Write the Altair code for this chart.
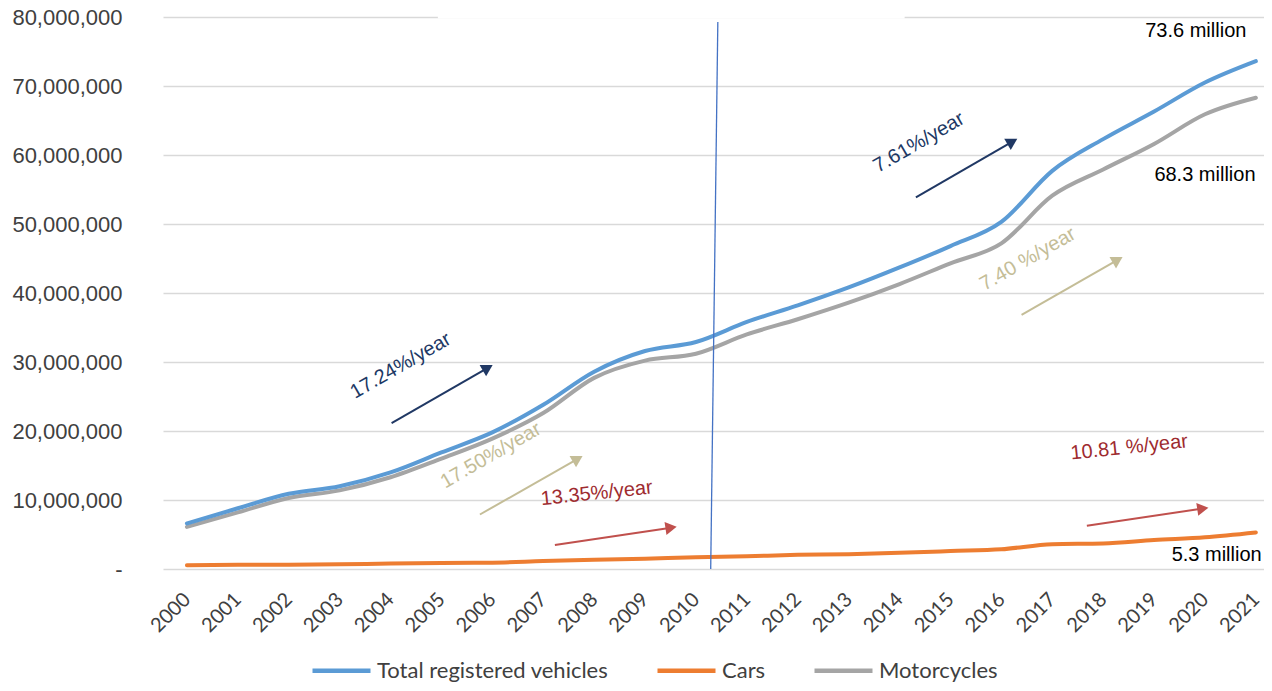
import altair as alt
import pandas as pd

# ---------------- data ----------------
years = list(range(2000, 2022))
total_m = [6.6, 8.8, 10.9, 12.0, 14.0, 16.9, 19.8, 23.8, 28.6, 31.6, 32.9,
           35.8, 38.2, 40.8, 43.7, 46.8, 50.3, 57.7, 62.3, 66.3, 70.5, 73.6]
cars_m = [0.55, 0.6, 0.62, 0.68, 0.8, 0.88, 0.92, 1.15, 1.35, 1.5, 1.7,
          1.85, 2.05, 2.15, 2.35, 2.6, 2.85, 3.6, 3.7, 4.2, 4.6, 5.3]
motor_m = [6.1, 8.2, 10.3, 11.4, 13.3, 16.0, 18.9, 22.6, 27.7, 30.2, 31.2,
           34.0, 36.2, 38.6, 41.3, 44.3, 47.2, 54.1, 57.9, 61.6, 65.9, 68.3]

series_names = ["Total registered vehicles", "Cars", "Motorcycles"]
series_colors = ["#5B9BD5", "#ED7D31", "#A5A5A5"]
y_ticks = [0, 10e6, 20e6, 30e6, 40e6, 50e6, 60e6, 70e6, 80e6]

NAVY = "#203864"
TAN = "#C4BD97"
RED_TXT = "#9E2B2F"
RED_ARR = "#C0504D"

# annotation texts
ann_text = ["17.24%/year", "17.50%/year", "13.35%/year", "7.61%/year",
            "7.40 %/year", "10.81 %/year", "73.6 million", "68.3 million",
            "5.3 million"]
ann_year = [2004.20, 2005.97, 2008.05, 2014.38, 2016.52, 2018.51,
            2019.82, 2020.00, 2020.23]
ann_value_m = [29.46, 16.46, 10.97, 61.8, 44.91, 17.62, 78.0, 57.04, 2.02]
ann_angle = [330, 330, 354, 330, 330, 354, 0, 0, 0]
ann_color = [NAVY, TAN, RED_TXT, NAVY, TAN, RED_TXT, "#000000", "#000000", "#000000"]

# arrows (start -> head)
arr_year1 = [2004.021, 2005.756, 2007.229, 2014.321, 2016.397, 2017.680]
arr_val1_m = [21.126, 7.899, 3.466, 53.863, 36.823, 6.282]
arr_year2 = [2005.910, 2007.677, 2009.512, 2016.217, 2018.285, 2019.959]
arr_val2_m = [29.155, 15.957, 5.993, 61.935, 44.794, 8.765]
arr_head_angle = [60, 60, 81.4, 60, 60, 81.5]
arr_color = [NAVY, TAN, RED_ARR, NAVY, TAN, RED_ARR]

# vertical divider line
div_year = [2010.29]
div_year2 = [2010.43]
div_top_m = [79.28]

# gap in the top gridline
gap_year = [2004.93]
gap_year2 = [2014.10]

# ---------------- tables ----------------
rows = []
for name, vals in [("Motorcycles", motor_m), ("Cars", cars_m),
                   ("Total registered vehicles", total_m)]:
    for yr, v in zip(years, vals):
        rows.append({"year": yr, "value": v * 1e6, "series": name})
df = pd.DataFrame(rows)

ann_df = pd.DataFrame({
    "year": ann_year,
    "value": [v * 1e6 for v in ann_value_m],
    "text": ann_text,
    "angle": ann_angle,
    "color": ann_color,
})
arr_df = pd.DataFrame({
    "year": arr_year1,
    "value": [v * 1e6 for v in arr_val1_m],
    "year2": arr_year2,
    "value2": [v * 1e6 for v in arr_val2_m],
    "angle": arr_head_angle,
    "color": arr_color,
})
div_df = pd.DataFrame({"year": div_year, "year2": div_year2,
                       "value": [0.0], "value2": [v * 1e6 for v in div_top_m]})
gap_df = pd.DataFrame({"year": gap_year, "year2": gap_year2,
                       "value": [80e6]})

xs = alt.Scale(domain=[1999.53, 2021.16], nice=False, zero=False)
ys = alt.Scale(domain=[0, 80e6], nice=False)

x_axis = alt.Axis(
    values=years, format="d", labelAngle=315, labelAlign="right",
    labelBaseline="middle", labelPadding=27, ticks=False, domain=False,
    grid=False, title=None, labelFont="Lato", labelFontSize=20,
    labelColor="#404040", labelOverlap=False, labelFlush=False)
y_axis = alt.Axis(
    values=y_ticks,
    labelExpr="datum.value == 0 ? '-\u00a0\u00a0' : format(datum.value, ',')",
    ticks=False, domain=False, grid=True, gridColor="#D9D9D9",
    gridWidth=1.5, title=None, labelFont="Liberation Sans",
    labelFontSize=22, labelColor="#404040", labelPadding=41)


def X(field):
    return alt.X(field, scale=xs, axis=x_axis, title=None)


def Y(field):
    return alt.Y(field, scale=ys, axis=y_axis, title=None)


lines = alt.Chart(df).mark_line(
    strokeWidth=4, strokeCap="round", strokeJoin="round", interpolate="monotone"
).encode(
    x=X("year:Q"),
    y=Y("value:Q"),
    color=alt.Color("series:N", scale=alt.Scale(domain=series_names,
                                                range=series_colors),
                    legend=alt.Legend(
                        orient="none", legendX=147, legendY=622,
                        direction="horizontal", title=None,
                        symbolType="stroke", symbolSize=3364,
                        symbolStrokeWidth=4.5, labelFont="Lato",
                        labelFontSize=22, labelColor="#404040",
                        labelLimit=500,
                        columnPadding=39, labelOffset=4)),
)

gap = alt.Chart(gap_df).mark_rule(color="white", strokeWidth=3).encode(
    x=X("year:Q"),
    x2="year2:Q",
    y=Y("value:Q"),
)

divider = alt.Chart(div_df).mark_rule(color="#4472C4", strokeWidth=1.3).encode(
    x=X("year:Q"),
    x2="year2:Q",
    y=Y("value:Q"),
    y2="value2:Q",
)

shafts = alt.Chart(arr_df).mark_rule(strokeWidth=2).encode(
    x=X("year:Q"),
    x2="year2:Q",
    y=Y("value:Q"),
    y2="value2:Q",
    stroke=alt.Stroke("color:N", scale=None),
)

heads = alt.Chart(arr_df).mark_point(
    shape="triangle-up", filled=True, size=170, opacity=1
).encode(
    x=X("year2:Q"),
    y=Y("value2:Q"),
    angle=alt.Angle("angle:Q", scale=None),
    fill=alt.Fill("color:N", scale=None),
)

texts = alt.Chart(ann_df).mark_text(
    font="Liberation Sans", fontSize=20, align="center", baseline="middle"
).encode(
    x=X("year:Q"),
    y=Y("value:Q"),
    text="text:N",
    angle=alt.Angle("angle:Q", scale=None),
    fill=alt.Fill("color:N", scale=None),
)

chart = alt.layer(lines, gap, divider, shafts, heads, texts).properties(
    width=1101, height=552,
    padding={"left": 155, "top": 9, "right": 0, "bottom": 114},
    autosize=alt.AutoSizeParams(type="none"),
    background="white",
).configure_view(strokeWidth=0)

chart.save("out.html", embed_options={"renderer": "svg", "actions": False})
